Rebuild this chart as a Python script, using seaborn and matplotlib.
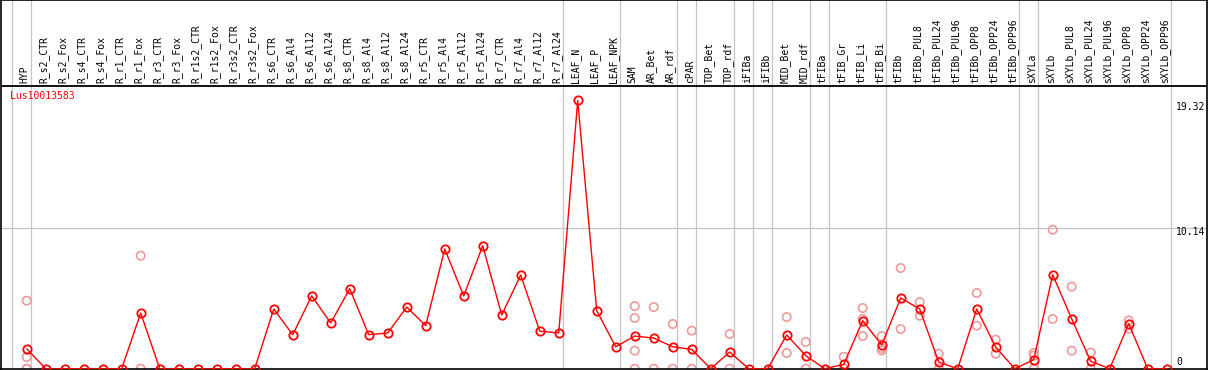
import pandas as pd
import numpy as np
import matplotlib
matplotlib.use("Agg")
import matplotlib.pyplot as plt
import seaborn as sns

# categories along the x axis
categories = ["HYP",
              "R_s2_CTR", "R_s2_Fox", "R_s4_CTR", "R_s4_Fox", "R_r1_CTR", "R_r1_Fox",
              "R_r3_CTR", "R_r3_Fox", "R_r1s2_CTR", "R_r1s2_Fox", "R_r3s2_CTR", "R_r3s2_Fox",
              "R_s6_CTR", "R_s6_Al4", "R_s6_Al12", "R_s6_Al24",
              "R_s8_CTR", "R_s8_Al4", "R_s8_Al12", "R_s8_Al24",
              "R_r5_CTR", "R_r5_Al4", "R_r5_Al12", "R_r5_Al24",
              "R_r7_CTR", "R_r7_Al4", "R_r7_Al12", "R_r7_Al24",
              "LEAF_N", "LEAF_P", "LEAF_NPK",
              "SAM", "AR_Bet", "AR_rdf", "cPAR", "TOP_Bet", "TOP_rdf",
              "iFIBa", "iFIBb", "MID_Bet", "MID_rdf", "tFIBa",
              "tFIB_Gr", "tFIB_Li", "tFIB_Bi",
              "tFIBb", "tFIBb_PUL8", "tFIBb_PUL24", "tFIBb_PUL96",
              "tFIBb_OPP8", "tFIBb_OPP24", "tFIBb_OPP96",
              "sXYLa", "sXYLb", "sXYLb_PUL8", "sXYLb_PUL24", "sXYLb_PUL96",
              "sXYLb_OPP8", "sXYLb_OPP24", "sXYLb_OPP96"]

# mean expression per category
means = [1.44,
         0, 0, 0, 0, 0, 4.01,
         0, 0, 0, 0, 0, 0,
         4.30, 2.45, 5.24, 3.29,
         5.76, 2.45, 2.57, 4.44,
         3.10, 8.62, 5.24, 8.86,
         3.87, 6.75, 2.71, 2.57,
         19.32, 4.18, 1.58,
         2.35, 2.21, 1.58, 1.39, 0, 1.20,
         0, 0, 2.43, 0.94, 0,
         0.31, 3.46, 1.71,
         5.09, 4.30, 0.48, 0,
         4.30, 1.56, 0,
         0.65, 6.77, 3.58, 0.53, 0,
         3.24, 0, 0]

# replicate values per category (empty = none visible)
replicates = [[4.90, 0.84, 0, 0],
              [], [], [], [], [], [8.14, 0],
              [], [], [], [], [], [],
              [], [], [], [],
              [], [], [], [],
              [], [], [], [],
              [], [], [], [],
              [], [], [],
              [4.51, 3.65, 1.30, 0], [4.44, 0], [3.22, 0], [2.74, 0], [], [2.50, 0],
              [], [], [3.72, 1.13], [1.92, 0], [],
              [0.86, 0], [4.37, 3.58, 2.35], [2.35, 1.49, 1.32],
              [7.25, 2.86], [4.80, 3.82], [1.08, 0], [],
              [5.45, 3.10], [2.09, 1.08], [],
              [1.13, 0.94, 0], [10.01, 3.58], [5.91, 1.30], [1.17, 0], [],
              [3.48, 2.88], [], []]

# index of the last category in each group (grey separators)
group_ends = [-1, 0, 28, 31, 34, 35, 37, 38, 39, 41, 42, 45, 52, 53, 60]
y_ticks = [0, 10.14, 19.32]
gene = "Lus10013583"

sns.set_style("white")
plt.rcParams['font.family'] = ['DejaVu Sans Mono', 'DejaVu Sans']

mean_df = pd.DataFrame({"pos": np.arange(len(categories)), "expr": means})
rep_df = pd.DataFrame([(i, v) for i, vals in enumerate(replicates) for v in vals],
                      columns=["pos", "expr"])

fig = plt.figure(figsize=(12.09, 3.70), dpi=100)
ax = fig.add_axes([1 / 1209, 1 / 370, 1206 / 1209, 369 / 370])

# grey separators and the single horizontal grid line
for g in group_ends:
    ax.axvline(g + 0.21, color="#c4c4c4", lw=0.9, zorder=1)
ax.axhline(y_ticks[1], color="#c4c4c4", lw=0.9, zorder=1)
ax.axhline(20.37, color="black", lw=1.3, zorder=4)

sns.scatterplot(data=rep_df, x="pos", y="expr", ax=ax, marker="o", s=36,
                facecolor="none", edgecolor="#ee9a9a", linewidth=1.2, zorder=2)
sns.lineplot(data=mean_df, x="pos", y="expr", ax=ax, color="red", lw=1.0,
             marker="o", markersize=6, markerfacecolor="none",
             markeredgecolor="red", markeredgewidth=1.3, zorder=3)

# category labels in the header band
for i, c in enumerate(categories):
    ax.text(i - 0.1, 20.59, c, rotation=90, ha="center", va="bottom",
            fontsize=7, color="black")

ax.text(-0.88, 19.65, gene, color="red", fontsize=7, ha="left", va="center")

for t, yy in zip(y_ticks, [0.48, 9.86, 18.88]):
    ax.text(60.49, yy, f"{t:g}", fontsize=7, ha="left", va="center", color="black")

ax.set_xlim(-1.353, 62.12)
ax.set_ylim(-0.02, 26.55)
ax.set_xticks([])
ax.set_yticks([])
ax.set_xlabel("")
ax.set_ylabel("")
for s in ax.spines.values():
    s.set_color("black")
    s.set_linewidth(1.2)

fig.savefig("out.png", dpi=100)
